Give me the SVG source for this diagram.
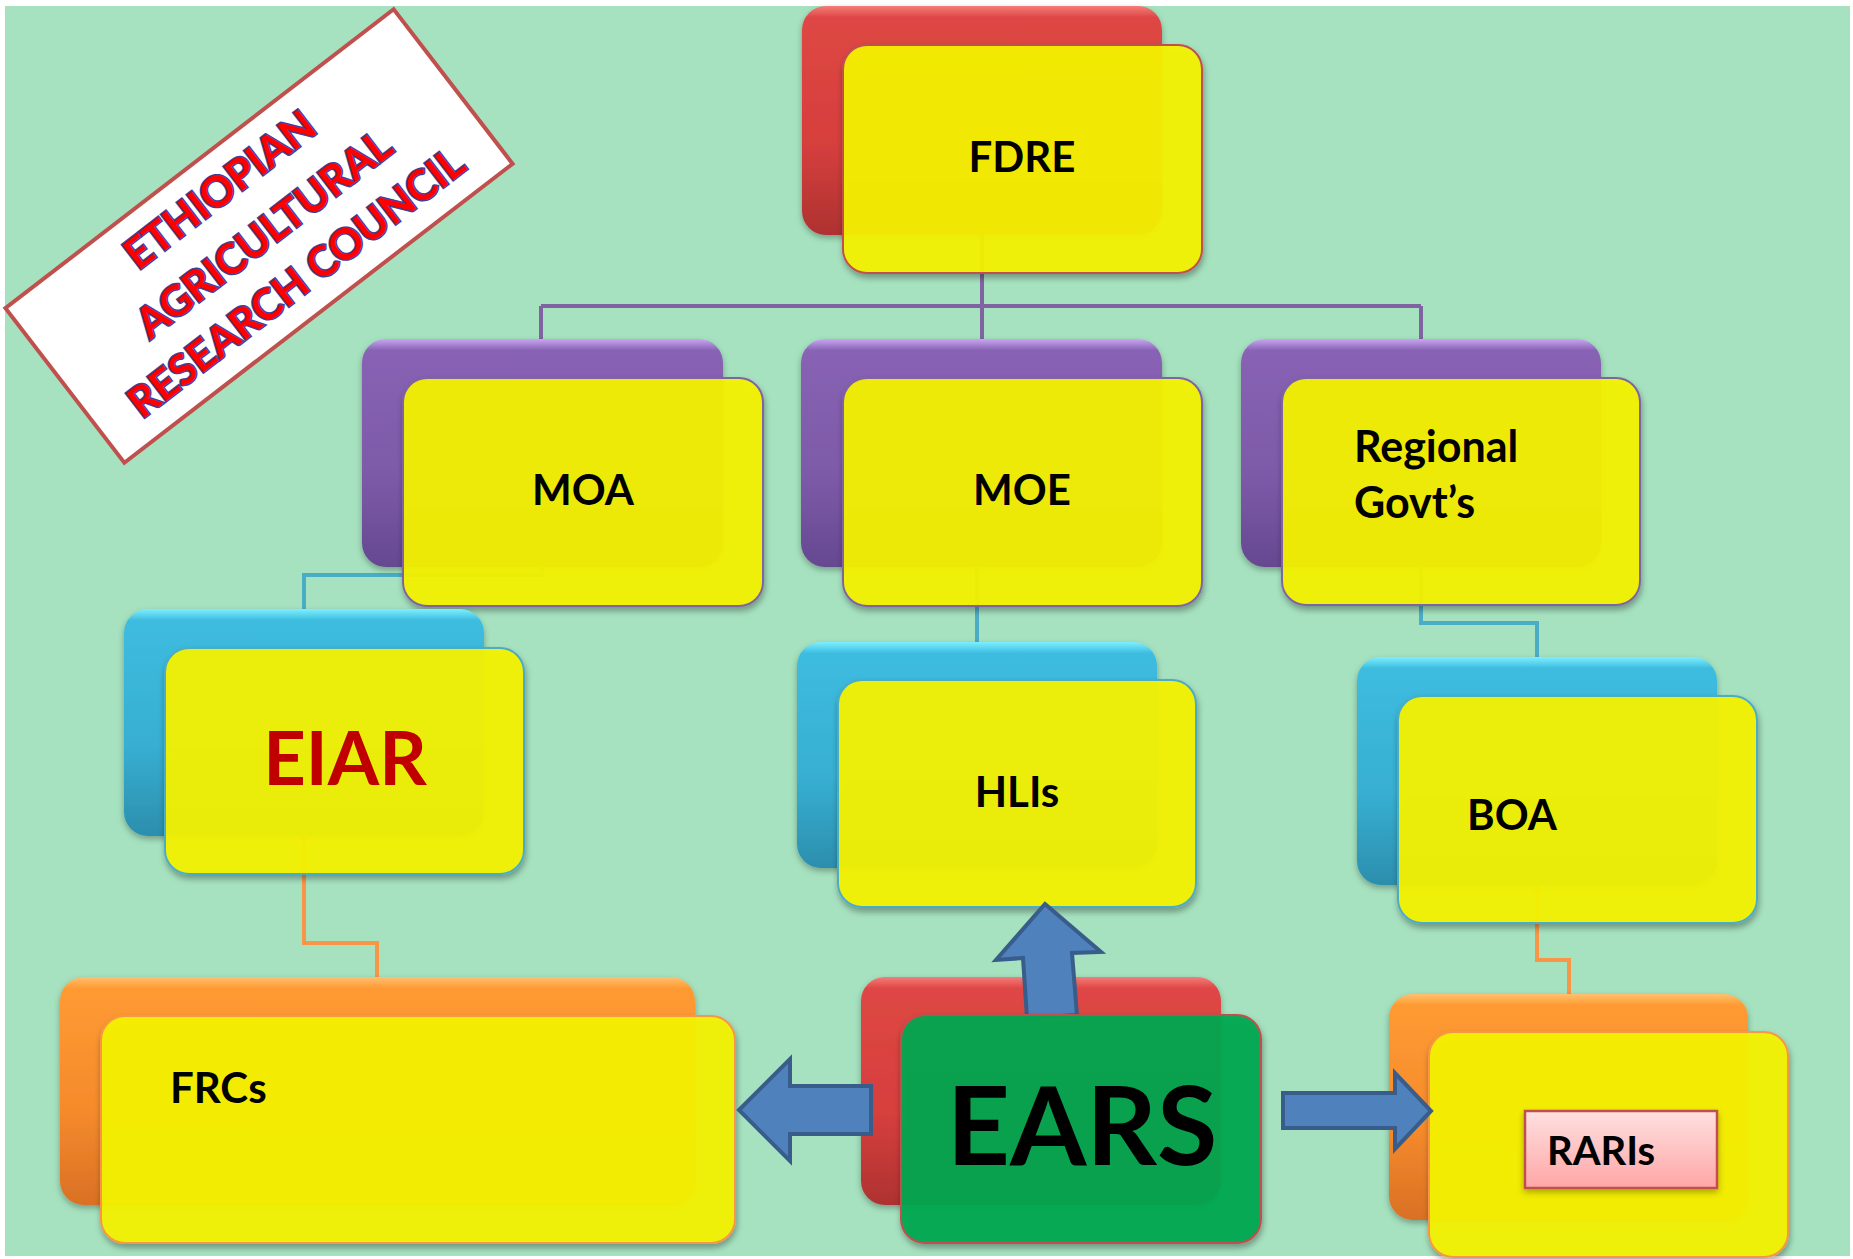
<svg xmlns="http://www.w3.org/2000/svg" width="1853" height="1259" viewBox="0 0 1853 1259">
<defs>
<linearGradient id="gRed" x1="0" y1="0" x2="0" y2="1">
<stop offset="0" stop-color="#F47C7A"/><stop offset="0.05" stop-color="#DE4744"/><stop offset="0.6" stop-color="#D63F3D"/><stop offset="1" stop-color="#AE3231"/></linearGradient>
<linearGradient id="gPur" x1="0" y1="0" x2="0" y2="1">
<stop offset="0" stop-color="#C8A6F2"/><stop offset="0.05" stop-color="#8862B4"/><stop offset="0.6" stop-color="#7D5AA8"/><stop offset="1" stop-color="#654890"/></linearGradient>
<linearGradient id="gBlu" x1="0" y1="0" x2="0" y2="1">
<stop offset="0" stop-color="#7CEFFF"/><stop offset="0.05" stop-color="#3DBCE0"/><stop offset="0.6" stop-color="#37AFD2"/><stop offset="1" stop-color="#2C8EAD"/></linearGradient>
<linearGradient id="gOra" x1="0" y1="0" x2="0" y2="1">
<stop offset="0" stop-color="#FFC070"/><stop offset="0.05" stop-color="#FF9A32"/><stop offset="0.6" stop-color="#F48A2C"/><stop offset="1" stop-color="#DA7024"/></linearGradient>
<linearGradient id="gPink" x1="0" y1="0" x2="0" y2="1">
<stop offset="0" stop-color="#FFE0E0"/><stop offset="1" stop-color="#FFA6A6"/></linearGradient>
<filter id="sh" x="-10%" y="-10%" width="120%" height="125%">
<feDropShadow dx="1" dy="4" stdDeviation="3" flood-color="#000" flood-opacity="0.35"/></filter>
<filter id="sh2" x="-10%" y="-10%" width="120%" height="125%">
<feDropShadow dx="0" dy="3" stdDeviation="3" flood-color="#000" flood-opacity="0.3"/></filter>
</defs>
<style>
.back{filter:url(#sh2)}
.red{fill:url(#gRed)}
.pur{fill:url(#gPur)}
.blu{fill:url(#gBlu)}
.ora{fill:url(#gOra)}
.front{fill:#F5F300;fill-opacity:0.93;stroke-width:2;filter:url(#sh)}
.lbl{font-family:Lato,"Liberation Sans",sans-serif;font-weight:700;fill:#000}
.con{fill:none;stroke-width:4}
.arrow{fill:#4F81BD;stroke:#385D8A;stroke-width:4;stroke-linejoin:miter}
.title{font-family:Lato,"Liberation Sans",sans-serif;font-weight:700;font-size:42px;fill:#FF0000;stroke:#3F3F9C;stroke-width:3;paint-order:stroke;text-anchor:middle}
</style>
<rect x="0" y="0" width="1853" height="1259" fill="#FFFFFF"/>
<rect x="5" y="6" width="1845" height="1250" fill="#A6E2C0"/>

<g id="banner">
<g transform="translate(259,236) rotate(-37.6)">
<rect x="-245" y="-97.5" width="490" height="195" fill="#FFFFFF" stroke="#C0504D" stroke-width="4"/>
<text class="title" x="-3" y="-46">ETHIOPIAN</text>
<text class="title" x="5" y="16">AGRICULTURAL</text>
<text class="title" x="1" y="74">RESEARCH COUNCIL</text>
</g>
</g>

<g id="connectors">
<path class="con" stroke="#8064A2" d="M982 235V306M541 306H1421M541 306V339M982 306V339M1421 306V339"/>
<path class="con" stroke="#4BACC6" d="M542 567V575H304V609M977 567V642M1421 567V623H1537V657"/>
<path class="con" stroke="#F79646" d="M304 836V943H377V977M1537 885V960H1569V994"/>
</g>

<g id="fdre">
<rect class="back red" x="802" y="6" width="360" height="229" rx="24"/>
<rect class="front" stroke="#C0504D" x="843" y="45" width="359" height="228" rx="24"/>
<text class="lbl" x="1022" y="172" font-size="42" text-anchor="middle">FDRE</text>
</g>

<g id="moa">
<rect class="back pur" x="362" y="339" width="361" height="228" rx="24"/>
<rect class="front" stroke="#8064A2" x="403" y="378" width="360" height="228" rx="24"/>
<text class="lbl" x="583" y="505" font-size="42" text-anchor="middle">MOA</text>
</g>

<g id="moe">
<rect class="back pur" x="801" y="339" width="361" height="228" rx="24"/>
<rect class="front" stroke="#8064A2" x="843" y="378" width="359" height="228" rx="24"/>
<text class="lbl" x="1022" y="505" font-size="42" text-anchor="middle">MOE</text>
</g>

<g id="regional">
<rect class="back pur" x="1241" y="339" width="360" height="228" rx="24"/>
<rect class="front" stroke="#8064A2" x="1282" y="378" width="358" height="227" rx="24"/>
<text class="lbl" x="1354" y="462" font-size="43">Regional</text>
<text class="lbl" x="1354" y="518" font-size="43">Govt’s</text>
</g>

<g id="eiar">
<rect class="back blu" x="124" y="609" width="360" height="227" rx="24"/>
<rect class="front" stroke="#4BACC6" x="165" y="648" width="359" height="226" rx="24"/>
<text class="lbl" x="345" y="785" font-size="74" text-anchor="middle" style="fill:#C00000">EIAR</text>
</g>

<g id="hlis">
<rect class="back blu" x="797" y="642" width="360" height="226" rx="24"/>
<rect class="front" stroke="#4BACC6" x="838" y="680" width="358" height="227" rx="24"/>
<text class="lbl" x="1017" y="807" font-size="42" text-anchor="middle">HLIs</text>
</g>

<g id="boa">
<rect class="back blu" x="1357" y="657" width="360" height="228" rx="24"/>
<rect class="front" stroke="#4BACC6" x="1398" y="696" width="359" height="227" rx="24"/>
<text class="lbl" x="1467" y="830" font-size="42">BOA</text>
</g>

<g id="frcs">
<rect class="back ora" x="60" y="977" width="635" height="228" rx="24"/>
<rect class="front" stroke="#F79646" x="101" y="1016" width="634" height="227" rx="24"/>
<text class="lbl" x="170" y="1103" font-size="42">FRCs</text>
</g>

<g id="raris">
<rect class="back ora" x="1389" y="994" width="359" height="226" rx="24"/>
<rect class="front" stroke="#F79646" x="1429" y="1032" width="359" height="225" rx="24"/>
<rect x="1525" y="1111" width="192" height="77" fill="url(#gPink)" stroke="#C0504D" stroke-width="2.5" filter="url(#sh2)"/>
<text class="lbl" x="1547" y="1165" font-size="40">RARIs</text>
</g>

<g id="ears">
<rect class="back red" x="861" y="977" width="360" height="228" rx="24"/>
<path class="arrow" d="M1045 904L1101 952L1072 953L1077 1015L1027 1018L1023 958L996 960Z"/>
<path class="arrow" d="M739 1110L790 1059V1086H871V1134H790V1161Z"/>
<rect class="front" style="fill:#00A850" stroke="#C0504D" x="901" y="1015" width="360" height="228" rx="24"/>
<text class="lbl" x="1082" y="1165" font-size="110" text-anchor="middle">EARS</text>
<path class="arrow" d="M1283 1093H1395V1073L1431 1111L1395 1149V1128H1283Z"/>
</g>
</svg>
